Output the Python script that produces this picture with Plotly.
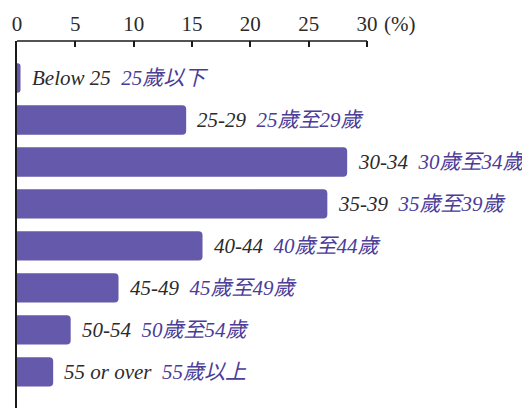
import plotly.graph_objects as go

categories_en = ["Below 25", "25-29", "30-34", "35-39", "40-44", "45-49", "50-54", "55 or over"]
categories_zh = ["25歲以下", "25歲至29歲", "30歲至34歲", "35歲至39歲", "40歲至44歲", "45歲至49歲", "50歲至54歲", "55歲以上"]
values = [0.3, 14.5, 28.3, 26.6, 15.9, 8.7, 4.6, 3.1]
tick_vals = [0, 5, 10, 15, 20, 25, 30]
tick_text = ["0", "5", "10", "15", "20", "25", "30"]

SERIF = "Liberation Serif, DejaVu Serif, Noto Sans CJK TC, serif"
PURPLE = "#4b3c98"
BAR = "#6459aa"

ypos = list(range(len(values)))

fig = go.Figure()
fig.add_trace(go.Bar(
    x=values, y=ypos, orientation="h",
    marker=dict(color=BAR, line=dict(width=0), cornerradius=4),
    width=0.7, hoverinfo="skip",
))

for v, y, en, zh in zip(values, ypos, categories_en, categories_zh):
    fig.add_annotation(
        x=v, y=y, xref="x", yref="y", xanchor="left", yanchor="middle",
        xshift=9, showarrow=False,
        text=f"<i>{en}</i>\u00a0 <span style='color:{PURPLE}'><i>{zh}</i></span>",
        font=dict(family=SERIF, size=21, color="#2b2b2b"),
    )

# top axis line from 0 to 30
fig.add_shape(type="line", xref="x", yref="paper", x0=0, x1=30, y0=1, y1=1,
              line=dict(color="#1a1a1a", width=1.5))
fig.add_annotation(x=30, y=1, xref="x", yref="paper", xanchor="left", yanchor="bottom",
                   xshift=15, yshift=3, showarrow=False, text="(%)",
                   font=dict(family=SERIF, size=21, color="#2b2b2b"))

# the page body adds an 8px margin, so the figure is drawn 8px smaller
fig.update_layout(
    width=522, height=400,
    margin=dict(l=9, r=0, t=33, b=0),
    paper_bgcolor="white", plot_bgcolor="white",
    showlegend=False,
    xaxis=dict(
        side="top", range=[0, 513 / (350 / 30)], tickmode="array",
        tickvals=tick_vals, ticktext=tick_text, ticks="inside", ticklen=6,
        tickwidth=1.5, tickcolor="#1a1a1a", showgrid=False, zeroline=False,
        showline=False, tickfont=dict(family=SERIF, size=21, color="#2b2b2b"),
        ticklabelstandoff=5, fixedrange=True,
    ),
    yaxis=dict(
        range=[7.86, -0.88], showticklabels=False, ticks="", showgrid=False,
        zeroline=False, showline=True, linecolor="#1a1a1a", linewidth=1.5,
        fixedrange=True,
    ),
)

fig.write_html("out.html")
